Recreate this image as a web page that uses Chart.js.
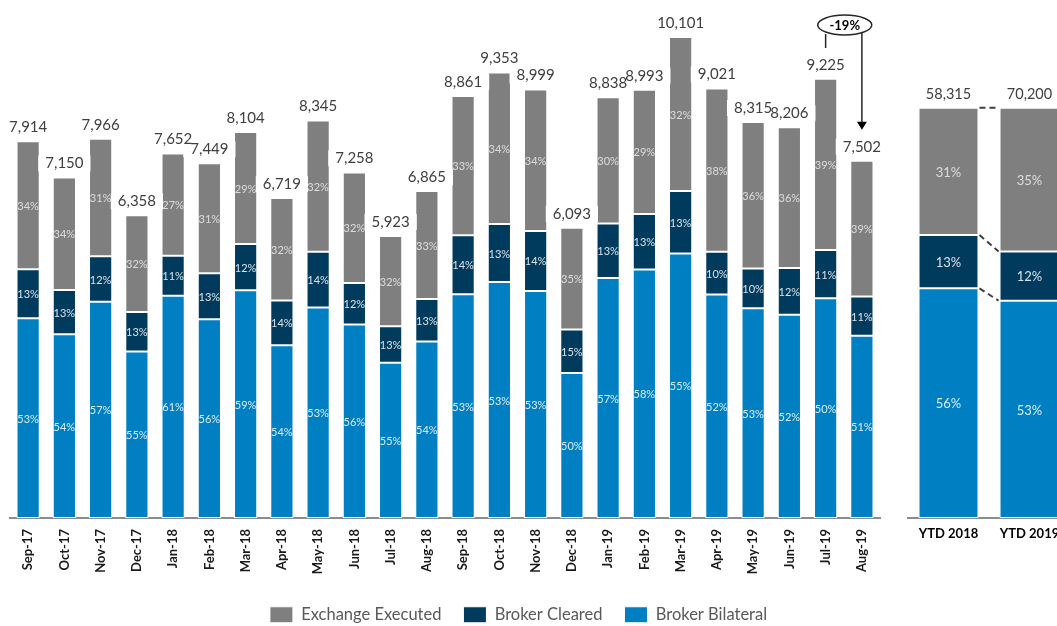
<!DOCTYPE html>
<html>
<head>
<meta charset="utf-8">
<script src="https://cdn.jsdelivr.net/npm/chart.js@4.4.1/dist/chart.umd.min.js"></script>
<style>
  html, body { margin: 0; padding: 0; background: #fff; }
  #wrap { position: relative; width: 1057px; height: 626px; overflow: hidden; }
  #main { position: absolute; left: 0; top: 0; }
  #ytdBox { position: absolute; left: 898px; top: 0; width: 159px; height: 560px; overflow: hidden; }
</style>
</head>
<body>
<div id="wrap">
  <canvas id="main" width="1057" height="626"></canvas>
  <div id="ytdBox"><canvas id="ytd" width="180" height="560"></canvas></div>
</div>
<script>
// monthly volumes (totals) and mix shares
const months = ['Sep-17', 'Oct-17', 'Nov-17', 'Dec-17', 'Jan-18', 'Feb-18', 'Mar-18', 'Apr-18',
  'May-18', 'Jun-18', 'Jul-18', 'Aug-18', 'Sep-18', 'Oct-18', 'Nov-18', 'Dec-18',
  'Jan-19', 'Feb-19', 'Mar-19', 'Apr-19', 'May-19', 'Jun-19', 'Jul-19', 'Aug-19'];
const totals = [7914, 7150, 7966, 6358, 7652, 7449, 8104, 6719, 8345, 7258, 5923, 6865,
  8861, 9353, 8999, 6093, 8838, 8993, 10101, 9021, 8315, 8206, 9225, 7502];
const exchangePct = [34, 34, 31, 32, 27, 31, 29, 32, 32, 32, 32, 33, 33, 34, 34, 35, 30, 29, 32, 38, 36, 36, 39, 39];
const clearedPct = [13, 13, 12, 13, 11, 13, 12, 14, 14, 12, 13, 13, 14, 13, 14, 15, 13, 13, 13, 10, 10, 12, 11, 11];
const bilateralPct = [53, 54, 57, 55, 61, 56, 59, 54, 53, 56, 55, 54, 53, 53, 53, 50, 57, 58, 55, 52, 53, 52, 50, 51];

const ytdLabels = ['YTD 2018', 'YTD 2019'];
const ytdTotals = [58315, 70200];
const ytdExchangePct = [31, 35];
const ytdClearedPct = [13, 12];
const ytdBilateralPct = [56, 53];

const changeLabel = '-19%';

const GREY = '#7f7f7f';
const NAVY = '#003a5d';
const BLUE = '#0080c3';
const FONT = 'Lato, "Open Sans", sans-serif';

// split each total by its shares; exchange takes the remainder so the stack hits the total
const bilateralVol = totals.map((t, i) => t * bilateralPct[i] / 100);
const clearedVol = totals.map((t, i) => t * clearedPct[i] / 100);
const exchangeVol = totals.map((t, i) => t - bilateralVol[i] - clearedVol[i]);

function fmt(n) {
  return n.toLocaleString('en-US');
}

// share labels inside the segments + totals above the stacks
const stackLabels = {
  id: 'stackLabels',
  afterDatasetsDraw(chart, args, opts) {
    const ctx = chart.ctx;
    ctx.save();
    ctx.textAlign = 'center';
    ctx.textBaseline = 'middle';
    ctx.font = opts.pctFont;
    chart.data.datasets.forEach((ds, di) => {
      const meta = chart.getDatasetMeta(di);
      meta.data.forEach((bar, i) => {
        ctx.fillStyle = ds.pctColor;
        ctx.fillText(ds.shares[i] + '%', bar.x, (bar.y + bar.base) / 2 + 1);
      });
    });
    const top = chart.getDatasetMeta(chart.data.datasets.length - 1);
    ctx.font = opts.totalFont;
    // white label boxes first (they may bite into a neighbour bar), then the text
    top.data.forEach((bar, i) => {
      const w = ctx.measureText(fmt(opts.totals[i])).width;
      ctx.fillStyle = '#fff';
      ctx.fillRect(bar.x - w / 2 - opts.boxPad, bar.y - opts.gap - 8, w + opts.boxPad * 2, 16);
    });
    ctx.fillStyle = '#404040';
    top.data.forEach((bar, i) => {
      ctx.fillText(fmt(opts.totals[i]), bar.x, bar.y - opts.gap);
    });
    ctx.restore();
  }
};

// "-19%" bubble linking Jul-19 to Aug-19
const changeNote = {
  id: 'changeNote',
  afterDraw(chart) {
    const ctx = chart.ctx;
    const x = chart.scales.x;
    const meta = chart.getDatasetMeta(chart.data.datasets.length - 1);
    const x1 = x.getPixelForValue(months.length - 2);
    const x2 = x.getPixelForValue(months.length - 1);
    const cx = (x1 + x2) / 2 + 1;
    const cy = chart.chartArea.top + 17;
    const rx = 27, ry = 10;
    ctx.save();
    ctx.strokeStyle = '#262626';
    ctx.lineWidth = 1.5;
    ctx.beginPath();
    ctx.ellipse(cx, cy, rx, ry, 0, 0, Math.PI * 2);
    ctx.stroke();
    ctx.beginPath();
    ctx.moveTo(x1, cy + ry - 1);
    ctx.lineTo(x1, cy + ry + 13);
    ctx.stroke();
    const dx = (x2 - cx) / rx;
    const yStart = cy + ry * Math.sqrt(Math.max(0, 1 - dx * dx));
    const tip = meta.data[months.length - 1].y - 31;
    ctx.beginPath();
    ctx.moveTo(x2, yStart);
    ctx.lineTo(x2, tip - 6);
    ctx.stroke();
    ctx.fillStyle = '#000';
    ctx.beginPath();
    ctx.moveTo(x2 - 5, tip - 8);
    ctx.lineTo(x2 + 5, tip - 8);
    ctx.lineTo(x2, tip);
    ctx.closePath();
    ctx.fill();
    ctx.font = 'bold 13px ' + FONT;
    ctx.textAlign = 'center';
    ctx.textBaseline = 'middle';
    ctx.fillText(changeLabel, cx, cy + 1);
    ctx.restore();
  }
};

// dashed links between the two YTD stacks
const ytdLinks = {
  id: 'ytdLinks',
  afterDatasetsDraw(chart) {
    const ctx = chart.ctx;
    ctx.save();
    ctx.strokeStyle = '#404040';
    ctx.lineWidth = 2;
    ctx.setLineDash([6, 4]);
    chart.data.datasets.forEach((ds, di) => {
      const bars = chart.getDatasetMeta(di).data;
      const a = bars[0], b = bars[1];
      ctx.beginPath();
      ctx.moveTo(a.x + a.width / 2 + 1, a.y);
      ctx.lineTo(b.x - b.width / 2 - 1, b.y);
      ctx.stroke();
    });
    ctx.restore();
  }
};

new Chart(document.getElementById('main'), {
  type: 'bar',
  data: {
    labels: months,
    datasets: [
      { label: 'Broker Bilateral', data: bilateralVol, shares: bilateralPct, backgroundColor: BLUE, pctColor: 'rgba(255,255,255,0.85)' },
      { label: 'Broker Cleared', data: clearedVol, shares: clearedPct, backgroundColor: NAVY, pctColor: 'rgba(255,255,255,0.85)' },
      { label: 'Exchange Executed', data: exchangeVol, shares: exchangePct, backgroundColor: GREY, pctColor: 'rgba(230,230,230,0.9)' }
    ]
  },
  options: {
    responsive: false,
    animation: false,
    layout: { padding: { left: 10, right: 30, top: 8, bottom: -7 } },
    datasets: {
      bar: { categoryPercentage: 1, barPercentage: 0.64, borderColor: '#fff', borderWidth: 1, borderSkipped: false }
    },
    plugins: {
      legend: {
        position: 'bottom',
        reverse: true,
        labels: { boxWidth: 23, boxHeight: 16, padding: 22, color: '#595959', font: { family: FONT, size: 16.5 } }
      },
      tooltip: { enabled: false },
      stackLabels: { totals: totals, pctFont: '11px ' + FONT, totalFont: '15px ' + FONT, gap: 14, boxPad: 7 }
    },
    scales: {
      x: {
        stacked: true,
        grid: { display: false },
        border: { display: true, color: '#8c8c8c', width: 2 },
        ticks: { minRotation: 90, maxRotation: 90, padding: 3, color: '#1a1a1a', font: { family: FONT, size: 13, weight: 'bold' } },
        afterFit(s) { s.height = 66.5; }
      },
      y: {
        stacked: true,
        position: 'right',
        min: 0,
        max: 10710,
        grid: { display: false },
        border: { display: false },
        ticks: { display: false },
        afterFit(s) { s.width = 147; }
      }
    }
  },
  plugins: [stackLabels, changeNote]
});

new Chart(document.getElementById('ytd'), {
  type: 'bar',
  data: {
    labels: ytdLabels,
    datasets: [
      { label: 'Broker Bilateral', data: ytdBilateralPct, shares: ytdBilateralPct, backgroundColor: BLUE, pctColor: 'rgba(255,255,255,0.85)' },
      { label: 'Broker Cleared', data: ytdClearedPct, shares: ytdClearedPct, backgroundColor: NAVY, pctColor: 'rgba(255,255,255,0.85)' },
      { label: 'Exchange Executed', data: ytdExchangePct, shares: ytdExchangePct, backgroundColor: GREY, pctColor: 'rgba(230,230,230,0.9)' }
    ]
  },
  options: {
    responsive: false,
    animation: false,
    layout: { padding: { left: 10, right: 8, top: 0, bottom: 0 } },
    datasets: {
      bar: { categoryPercentage: 1, barPercentage: 0.74, borderColor: '#fff', borderWidth: 1, borderSkipped: false }
    },
    plugins: {
      legend: { display: false },
      tooltip: { enabled: false },
      stackLabels: { totals: ytdTotals, pctFont: '13px ' + FONT, totalFont: '14.5px ' + FONT, gap: 14, boxPad: 0 }
    },
    scales: {
      x: {
        stacked: true,
        grid: { display: false },
        border: { display: true, color: '#8c8c8c', width: 2 },
        ticks: { maxRotation: 0, padding: 0, color: '#000', font: { family: FONT, size: 13, weight: 'bold' } },
        afterFit(s) { s.height = 42; }
      },
      y: { stacked: true, display: false, min: 0, max: 126.3 }
    }
  },
  plugins: [ytdLinks, stackLabels]
});
</script>
</body>
</html>
